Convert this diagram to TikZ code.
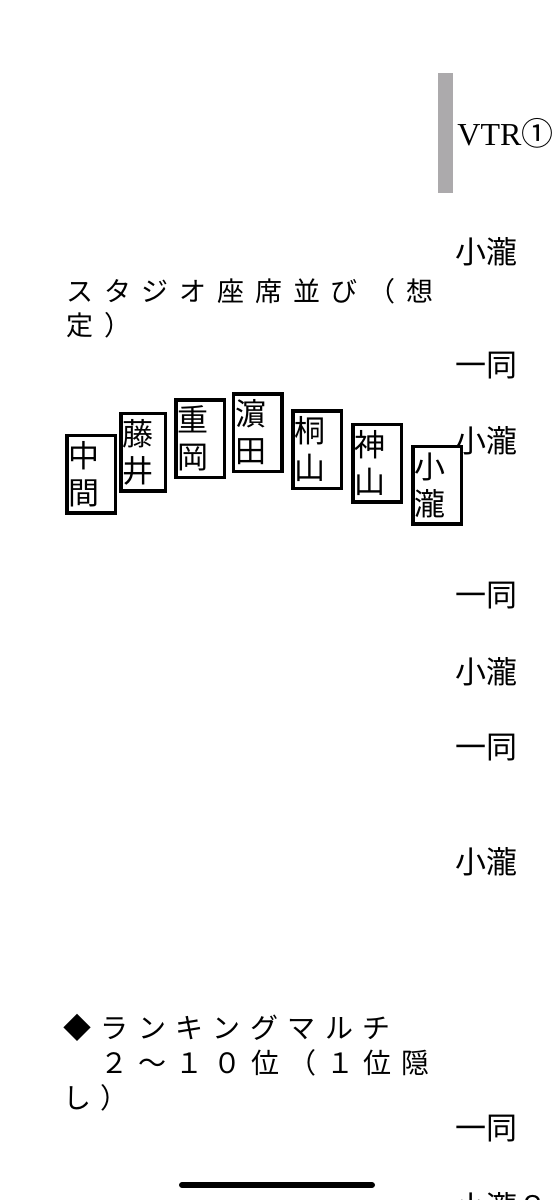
\documentclass[tikz,border=0pt]{standalone}
\usepackage{fontspec}
\usepackage{tikz}
\usepackage{xcolor}
\usetikzlibrary{positioning}
\setmainfont{Noto Sans CJK JP}
\newfontfamily\vtrfont{Liberation Serif}
\newfontfamily\headfont[LetterSpace=40]{Noto Sans CJK JP}
\newfontfamily\rankfont[LetterSpace=34]{Noto Sans CJK JP}
\definecolor{bargray}{RGB}{172,170,172}

\begin{document}
\begin{tikzpicture}[
    x=0.5pt, y=-0.5pt,
    seat/.style={rectangle, draw, line width=1.75pt, inner xsep=1pt, inner ysep=1pt,
        text width=22.25pt, minimum height=38.75pt, align=left,
        font=\fontsize{15.5pt}{18.5pt}\selectfont},
    cue/.style={anchor=west, inner sep=0pt, font=\fontsize{15.5pt}{18pt}\selectfont},
    para/.style={anchor=north west, inner sep=0pt, align=left}
]
    \useasboundingbox[fill=white] (0,0) rectangle (554,1200);

    % header
    \fill[bargray] (438,73) rectangle (453,193);
    \node[anchor=base west, inner sep=0pt] (vtr) at (457,145)
        {{\vtrfont\fontsize{16pt}{19pt}\selectfont VTR}{\fontsize{16pt}{19pt}\selectfont ①}};

    % seating
    \node[para, font=\headfont\fontsize{13.5pt}{17pt}\selectfont] (title) at (66,278)
        {スタジオ座席並び（想\\定）};

    \node[seat] (nakama) at (91,474) {中\\間};
    \node[seat, text width=20.25pt, right=1pt of nakama, yshift=11pt] (fujii) {藤\\井};
    \node[seat, right=3.5pt of fujii, yshift=6.75pt] (shigeoka) {重\\岡};
    \node[seat, right=2.85pt of shigeoka, yshift=3pt] (hamada) {濵\\田};
    \node[seat, right=3.65pt of hamada, yshift=-8.5pt] (kiriyama) {桐\\山};
    \node[seat, right=4pt of kiriyama, yshift=-6.75pt] (kamiyama) {神\\山};
    \node[seat, right=4pt of kamiyama, yshift=-11pt] (kotaki) {小\\瀧};

    % script column
    \node[cue] (line1) at (455,252) {小瀧};
    \node[cue] (line2) at (455,366) {一同};
    \node[cue] (line3) at (455,441) {小瀧};
    \node[cue] (line4) at (455,596) {一同};
    \node[cue] (line5) at (455,672) {小瀧};
    \node[cue] (line6) at (455,748) {一同};
    \node[cue] (line7) at (455,862) {小瀧};
    \node[cue] (line8) at (455,1129) {一同};
    \node[cue] (line9) at (455,1207) {小瀧８};

    % ranking
    \node[para, font=\rankfont\fontsize{14pt}{17.5pt}\selectfont] (ranking) at (63,1014)
        {◆ランキングマルチ\\　２～１０位（１位隠\\し）};

    % home bar
    \coordinate (homeL) at (182,1185);
    \coordinate (homeR) at (372,1185);
    \draw[line width=3pt, line cap=round] (homeL) -- (homeR);
\end{tikzpicture}
\end{document}
